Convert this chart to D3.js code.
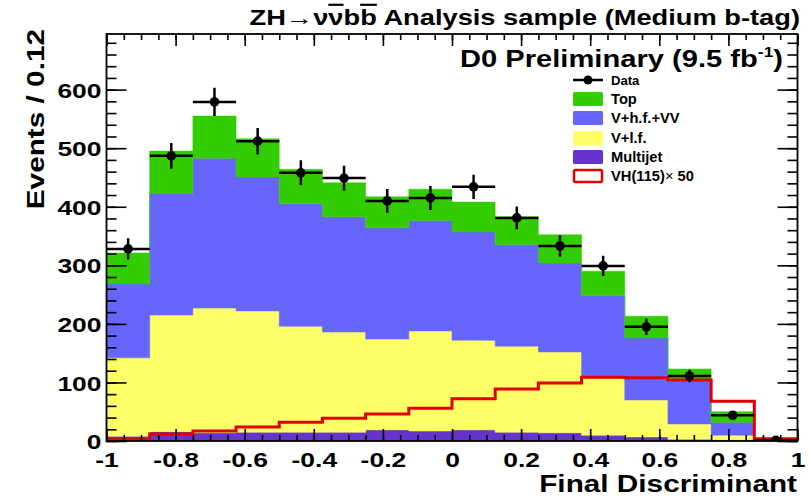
<!DOCTYPE html>
<html>
<head>
<meta charset="utf-8">
<script src="https://cdn.jsdelivr.net/npm/d3@7"></script>
<style>
  html, body { margin: 0; padding: 0; background: #fff; }
  svg { display: block; }
  text { font-family: "Liberation Sans", Arial, Helvetica, sans-serif; font-weight: bold; fill: #000; }
</style>
</head>
<body>
<svg id="chart" width="809" height="498"></svg>
<script>
// Histogram bin edges on the final discriminant
const binEdges = [-1, -0.875, -0.75, -0.625, -0.5, -0.375, -0.25, -0.125, 0,
                  0.125, 0.25, 0.375, 0.5, 0.625, 0.75, 0.875, 1];

// Background expectations per bin (events)
const multijet = [8, 16, 14, 15, 15, 15, 19, 17, 19, 15, 14, 10, 7, 3, 2, 1];
const vlf      = [134, 199, 213, 207, 181, 171, 155, 171, 153, 147, 138, 98, 63, 26, 8, 1];
const vhf      = [126, 208, 256, 229, 209, 197, 190, 188, 185, 173, 152, 140, 106, 75, 22, 1];
const topBkg   = [53, 72, 72, 65, 59, 58, 53, 54, 51, 48, 48, 42, 37, 19, 18, 2];

// Observed data and the scaled signal expectation
const observed = [328, 487, 579, 512, 458, 449, 410, 415, 434, 381, 333, 299, 195, 111, 44, 1];
const signalVH = [3, 12, 17, 24, 32, 39, 46, 56, 72, 89, 99, 109, 108, 104, 68, 4];

const xTicks = [-1, -0.8, -0.6, -0.4, -0.2, 0, 0.2, 0.4, 0.6, 0.8, 1];
const yTicks = [0, 100, 200, 300, 400, 500, 600];

const layerKeys   = ["multijet", "vlf", "vhf", "top"];
const layerColors = { multijet: "#6633cc", vlf: "#ffff66", vhf: "#6666ff", top: "#33cc00" };
const signalColor = "#e00000";

const SX = 1.24;      // horizontal glyph stretch of the bold face (titles)
const SX_TICK = 1.26; // stretch for the tick numbers
const SX_LEG = 1.05;  // stretch for legend entries

const svg = d3.select("#chart");
const plot = { left: 106.5, right: 797.5, top: 34, bottom: 441 };

const x = d3.scaleLinear().domain([-1, 1]).range([plot.left, plot.right]);
const y = d3.scaleLinear().domain([0, 695]).range([plot.bottom, plot.top]);

// per-bin rows for stacking
const rows = binEdges.slice(0, -1).map((lo, i) => ({
  lo, hi: binEdges[i + 1],
  multijet: multijet[i], vlf: vlf[i], vhf: vhf[i], top: topBkg[i]
}));
const stacked = d3.stack().keys(layerKeys)(rows);

// step points: two per bin
function stepPoints(series) {
  const pts = [];
  series.forEach(d => {
    pts.push({ x: d.data.lo, y0: d[0], y1: d[1] });
    pts.push({ x: d.data.hi, y0: d[0], y1: d[1] });
  });
  return pts;
}

const area = d3.area().x(p => x(p.x)).y0(p => y(p.y0)).y1(p => y(p.y1));

svg.append("clipPath").attr("id", "plotclip")
  .append("rect").attr("x", plot.left).attr("y", plot.top)
  .attr("width", plot.right - plot.left).attr("height", plot.bottom - plot.top);

const g = svg.append("g").attr("clip-path", "url(#plotclip)");

stacked.forEach(s => {
  g.append("path")
    .attr("d", area(stepPoints(s)))
    .attr("fill", layerColors[s.key])
    .attr("stroke", layerColors[s.key])
    .attr("stroke-width", 0.5);
});

// signal outline
const sigPts = [];
rows.forEach((r, i) => { sigPts.push([r.lo, signalVH[i]]); sigPts.push([r.hi, signalVH[i]]); });
g.append("path")
  .attr("d", d3.line().x(p => x(p[0])).y(p => y(p[1]))(sigPts))
  .attr("fill", "none").attr("stroke", signalColor).attr("stroke-width", 3);

// data points with sqrt(N) errors
const dataG = g.append("g");
rows.forEach((r, i) => {
  const n = observed[i];
  const cx = x((r.lo + r.hi) / 2), cy = y(n), e = Math.sqrt(n);
  dataG.append("line").attr("x1", x(r.lo)).attr("x2", x(r.hi)).attr("y1", cy).attr("y2", cy)
    .attr("stroke", "#000").attr("stroke-width", 2.5);
  dataG.append("line").attr("x1", cx).attr("x2", cx).attr("y1", y(n - e)).attr("y2", y(n + e))
    .attr("stroke", "#000").attr("stroke-width", 2.5);
  dataG.append("circle").attr("cx", cx).attr("cy", cy).attr("r", 4.8).attr("fill", "#000");
});

// ---- axes: ticks on all four sides, pointing inward ----
const xMinor = d3.range(-1, 1.0001, 0.05);
const yMinor = d3.range(0, 695, 20);

function tickStyle(sel) {
  sel.select(".domain").remove();
  sel.selectAll("line").attr("stroke", "#000").attr("stroke-width", 1.6);
}

// bottom
svg.append("g").attr("transform", `translate(0,${plot.bottom})`)
  .call(d3.axisBottom(x).tickValues(xMinor).tickSize(-6).tickFormat(""))
  .call(tickStyle);
const xAxisG = svg.append("g").attr("transform", `translate(0,${plot.bottom})`)
  .call(d3.axisBottom(x).tickValues(xTicks).tickSize(-12)
    .tickFormat(d => d3.format("")(d).replace("−", "-")))
  .call(tickStyle);
xAxisG.selectAll("text")
  .attr("font-size", 21).attr("font-family", null)
  .attr("dy", "0.71em").attr("y", 11)
  .attr("transform", `scale(${SX_TICK},1)`);

// top
svg.append("g").attr("transform", `translate(0,${plot.top})`)
  .call(d3.axisTop(x).tickValues(xMinor).tickSize(-6).tickFormat(""))
  .call(tickStyle);
svg.append("g").attr("transform", `translate(0,${plot.top})`)
  .call(d3.axisTop(x).tickValues(xTicks).tickSize(-12).tickFormat(""))
  .call(tickStyle);

// left
svg.append("g").attr("transform", `translate(${plot.left},0)`)
  .call(d3.axisLeft(y).tickValues(yMinor).tickSize(-10).tickFormat(""))
  .call(tickStyle);
const yAxisG = svg.append("g").attr("transform", `translate(${plot.left},0)`)
  .call(d3.axisLeft(y).tickValues(yTicks).tickSize(-20).tickFormat(d3.format("d")))
  .call(tickStyle);
yAxisG.selectAll("text")
  .attr("font-size", 21).attr("font-family", null)
  .attr("x", -5 / SX_TICK).attr("dy", "0.36em")
  .attr("transform", `scale(${SX_TICK},1)`);

// right
svg.append("g").attr("transform", `translate(${plot.right},0)`)
  .call(d3.axisRight(y).tickValues(yMinor).tickSize(-10).tickFormat(""))
  .call(tickStyle);
svg.append("g").attr("transform", `translate(${plot.right},0)`)
  .call(d3.axisRight(y).tickValues(yTicks).tickSize(-20).tickFormat(""))
  .call(tickStyle);

// frame
svg.append("rect")
  .attr("x", plot.left).attr("y", plot.top)
  .attr("width", plot.right - plot.left).attr("height", plot.bottom - plot.top)
  .attr("fill", "none").attr("stroke", "#000").attr("stroke-width", 1.8);

// ---- titles ----
function wideText(px, py, size, anchor, rotate, sx) {
  return svg.append("text")
    .attr("transform", `translate(${px},${py})` + (rotate ? ` rotate(${rotate})` : "") + ` scale(${sx || SX},1)`)
    .attr("font-size", size).attr("text-anchor", anchor);
}

const title = wideText(800, 25, 22, "end");
title.append("tspan").text("ZH");
title.append("tspan").attr("font-weight", "normal").text("→");
title.append("tspan").text("ν");
title.append("tspan").style("text-decoration", "overline").text("ν");
title.append("tspan").text("b");
title.append("tspan").style("text-decoration", "overline").text("b");
title.append("tspan").text(" Analysis sample (Medium b-tag)");

const prelim = wideText(783, 67, 23.5, "end");
prelim.append("tspan").text("D0 Preliminary (9.5 fb");
prelim.append("tspan").attr("font-size", 14).attr("dy", -10).text("-1");
prelim.append("tspan").attr("dy", 10).text(")");

wideText(797, 492, 24, "end").text("Final Discriminant");
wideText(44, 29, 24, "end", -90).text("Events / 0.12");

// ---- legend ----
const legend = [
  { label: "Data", kind: "data" },
  { label: "Top", kind: "fill", color: layerColors.top },
  { label: "V+h.f.+VV", kind: "fill", color: layerColors.vhf },
  { label: "V+l.f.", kind: "fill", color: layerColors.vlf },
  { label: "Multijet", kind: "fill", color: layerColors.multijet },
  { label: "VH(115)", kind: "line", color: signalColor }
];
const legRowY = [80, 99, 118, 138, 157, 176];
legend.forEach((L, i) => {
  const cy = legRowY[i];
  if (L.kind === "data") {
    svg.append("line").attr("x1", 573).attr("x2", 603).attr("y1", cy).attr("y2", cy)
      .attr("stroke", "#000").attr("stroke-width", 2.5);
    svg.append("circle").attr("cx", 588).attr("cy", cy).attr("r", 4.5).attr("fill", "#000");
  } else if (L.kind === "fill") {
    svg.append("rect").attr("x", 573).attr("y", cy - 7).attr("width", 30).attr("height", 14)
      .attr("rx", 1.5).attr("fill", L.color);
  } else {
    svg.append("rect").attr("x", 574).attr("y", cy - 6).attr("width", 28).attr("height", 12)
      .attr("rx", 1.5).attr("fill", "#fff").attr("stroke", L.color).attr("stroke-width", 2.5);
  }
  const t = wideText(611, cy + 5, i === 0 ? 12.5 : 14, "start", null, SX_LEG).text(L.label);
  if (L.kind === "line") {
    t.append("tspan").attr("font-weight", "normal").text("× ");
    t.append("tspan").text(" 50");
  }
});
</script>
</body>
</html>
